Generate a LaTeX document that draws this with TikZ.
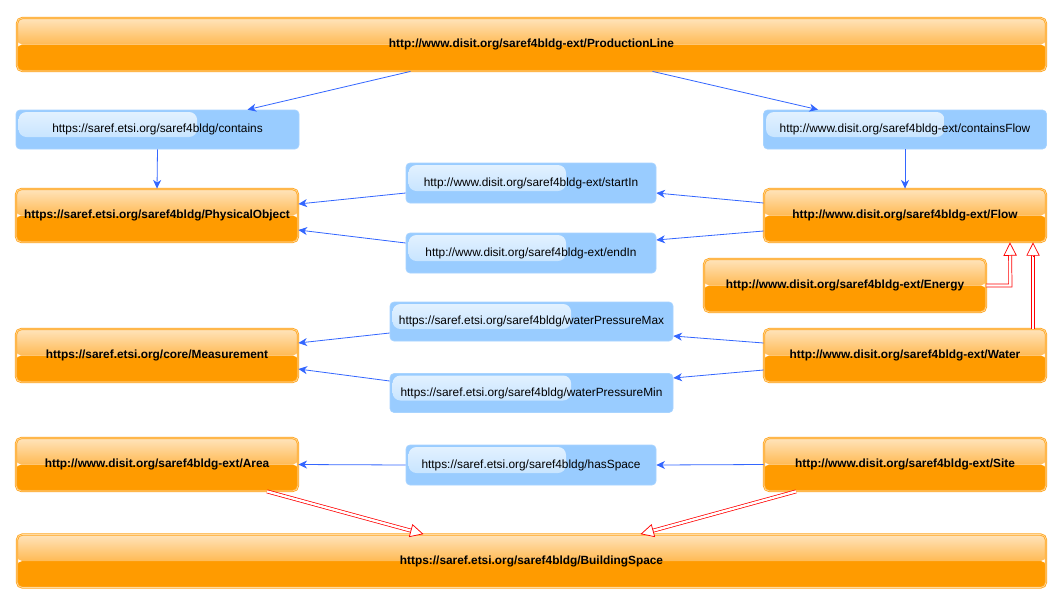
\documentclass[tikz,border=0pt]{standalone}
\usepackage{fontspec}
\setmainfont{Liberation Sans}
\usetikzlibrary{calc,arrows.meta}
\definecolor{oTop}{RGB}{255,228,188}
\definecolor{oMid}{RGB}{255,186,84}
\definecolor{oBot}{RGB}{255,155,0}
\definecolor{oBorder}{RGB}{255,165,30}
\definecolor{oInner}{RGB}{255,218,160}
\definecolor{bFill}{RGB}{153,204,255}
\definecolor{bHiTop}{RGB}{228,242,255}
\definecolor{bHiBot}{RGB}{188,223,255}
\definecolor{eBlue}{RGB}{51,102,255}
\tikzset{
  onode/.style={rounded corners=4pt, draw=oBorder, line width=0.6pt, double=oInner,
    double distance=0.5pt, inner sep=0pt, text=black,
    font=\bfseries\fontsize{8.9}{10}\selectfont,
    path picture={
      \fill[oBot] (path picture bounding box.south west) rectangle (path picture bounding box.east);
      \shade[top color=oTop, bottom color=oMid] (path picture bounding box.north west) rectangle (path picture bounding box.east);
    }},
  bnode/.style={rounded corners=3pt, fill=bFill, draw=bFill!85!white, line width=0.5pt,
    inner sep=0pt, text=black, font=\fontsize{8.9}{10}\selectfont,
    path picture={
      \shade[top color=bHiTop, bottom color=bHiBot, rounded corners=6pt]
        ($(path picture bounding box.north west)+(2.5,2)$) rectangle
        ($($(path picture bounding box.south west)!0.64!(path picture bounding box.south east)$)+(0,-12)$);
    }},
  big/.style={minimum width=771.75pt, minimum height=39.75pt},
  side/.style={minimum width=211.5pt, minimum height=39.75pt},
  bside/.style={minimum width=212.25pt, minimum height=29.25pt},
  bmid/.style={minimum width=187.5pt, minimum height=30pt},
  rel/.style={draw=eBlue, line width=0.6pt, -{Stealth[length=6.5pt,width=6pt,inset=2pt]}},
  isashaft/.style={draw=red, line width=0.55pt, double=white, double distance=1.8pt, shorten >=9pt},
  isatip/.style={draw=red, line width=0.55pt, -{Triangle[open,fill=white,length=10pt,width=10pt]}}
}
\begin{document}
\begin{tikzpicture}[x=0.75pt,y=-0.75pt]
\useasboundingbox[fill=white] (0,0) rectangle (1063,604);

\node[onode,big] (pl) at (531.5,44.5) {http://www.disit.org/saref4bldg-ext/ProductionLine};
\node[bnode,bside] (contains) at (157.5,129.5) {https://saref.etsi.org/saref4bldg/contains};
\node[bnode,bside] (cflow) at (905,129.5) {http://www.disit.org/saref4bldg-ext/containsFlow};
\node[onode,side] (phys) at (157,215.5) {https://saref.etsi.org/saref4bldg/PhysicalObject};
\node[bnode,bmid] (startin) at (531,183) {http://www.disit.org/saref4bldg-ext/startIn};
\node[bnode,bmid] (endin) at (531,253) {http://www.disit.org/saref4bldg-ext/endIn};
\node[onode,side] (flow) at (905,215.5) {http://www.disit.org/saref4bldg-ext/Flow};
\node[onode,side] (energy) at (845,285.5) {http://www.disit.org/saref4bldg-ext/Energy};
\node[bnode,bside] (wpmax) at (531.5,321.5) {https://saref.etsi.org/saref4bldg/waterPressureMax};
\node[bnode,bside] (wpmin) at (531.5,393) {https://saref.etsi.org/saref4bldg/waterPressureMin};
\node[onode,side] (meas) at (157,355.5) {https://saref.etsi.org/core/Measurement};
\node[onode,side] (water) at (905,355.5) {http://www.disit.org/saref4bldg-ext/Water};
\node[onode,side] (area) at (157,464.5) {http://www.disit.org/saref4bldg-ext/Area};
\node[bnode,bmid] (hasspace) at (531,465) {https://saref.etsi.org/saref4bldg/hasSpace};
\node[onode,side] (site) at (905,464.5) {http://www.disit.org/saref4bldg-ext/Site};
\node[onode,big] (bs) at (531.5,561) {https://saref.etsi.org/saref4bldg/BuildingSpace};

\draw[rel] ($(pl.south)+(-121,0)$) -- ($(contains.north)+(90,0)$);
\draw[rel] ($(pl.south)+(121,0)$) -- ($(cflow.north)+(-87,0)$);
\draw[rel] (contains.south) -- (phys.north);
\draw[rel] (cflow.south) -- (flow.north);
\draw[rel] ($(flow.west)+(0,-12.5)$) -- ($(startin.east)+(0,10)$);
\draw[rel] ($(startin.west)+(0,10)$) -- ($(phys.east)+(0,-11.5)$);
\draw[rel] ($(flow.west)+(0,15.5)$) -- ($(endin.east)+(0,-13)$);
\draw[rel] ($(endin.west)+(0,-10)$) -- ($(phys.east)+(0,14.5)$);
\draw[rel] ($(water.west)+(0,-12.5)$) -- ($(wpmax.east)+(0,14.5)$);
\draw[rel] ($(wpmax.west)+(0,11.5)$) -- ($(meas.east)+(0,-12.5)$);
\draw[rel] ($(water.west)+(0,14.5)$) -- ($(wpmin.east)+(0,-15)$);
\draw[rel] ($(wpmin.west)+(0,-12)$) -- ($(meas.east)+(0,13.5)$);
\draw[rel] (site.west) -- (hasspace.east);
\draw[rel] (hasspace.west) -- (area.east);

% Energy -> Flow
\coordinate (etip) at ($(flow.south)+(105,0)$);
\coordinate (ecorner) at ($(energy.east)+(24,0)$);
\draw[isashaft] (energy.east) -- (ecorner) -- (etip);
\draw[isatip] ($(etip)!10pt!(ecorner)$) -- (etip);
% Water -> Flow
\coordinate (wsrc) at ($(water.north)+(128,0)$);
\coordinate (wtip) at ($(flow.south)+(128,0)$);
\draw[isashaft] (wsrc) -- (wtip);
\draw[isatip] ($(wtip)!10pt!(wsrc)$) -- (wtip);
% Area -> BuildingSpace
\coordinate (asrc) at ($(area.south)+(110,0)$);
\coordinate (atip) at ($(bs.north)+(-108,0)$);
\draw[isashaft] (asrc) -- (atip);
\draw[isatip] ($(atip)!10pt!(asrc)$) -- (atip);
% Site -> BuildingSpace
\coordinate (ssrc) at ($(site.south)+(-109,0)$);
\coordinate (stip) at ($(bs.north)+(109,0)$);
\draw[isashaft] (ssrc) -- (stip);
\draw[isatip] ($(stip)!10pt!(ssrc)$) -- (stip);
\end{tikzpicture}
\end{document}
